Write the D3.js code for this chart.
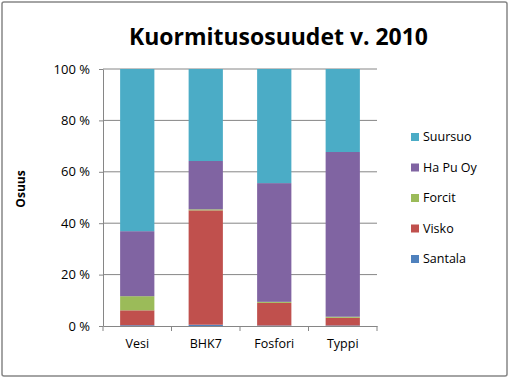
<!DOCTYPE html>
<html><head><meta charset="utf-8">
<script src="https://cdn.jsdelivr.net/npm/d3@7"></script>
<style>body{margin:0;background:#fff}svg{display:block}</style>
</head><body>
<script>
const categories = ["Vesi", "BHK7", "Fosfori", "Typpi"];
const seriesNames = ["Santala", "Visko", "Forcit", "Ha Pu Oy", "Suursuo"];
const santala = [0.3, 0.5, 0.2, 0.2];
const visko = [5.8, 44.5, 8.8, 3.0];
const forcit = [5.5, 0.4, 0.4, 0.4];
const hapuoy = [25.3, 18.8, 46.2, 64.1];
const suursuo = [63.1, 35.8, 44.4, 32.3];
const colors = ["#4F81BD", "#C0504D", "#9BBB59", "#8064A2", "#4BACC6"];
const yTicks = [0, 20, 40, 60, 80, 100];

(function () {
const W = 509, H = 378;
const svg = d3.select("body").append("svg").attr("width", W).attr("height", H);
const font = "'Open Sans', 'Liberation Sans', sans-serif";

svg.append("rect").attr("x", 2).attr("y", 2).attr("width", W - 4).attr("height", H - 4)
  .attr("fill", "#fff").attr("stroke", "#868686").attr("stroke-width", 1.5).attr("rx", 2);

const pL = 103, pR = 377, pT = 69, pB = 326;
const x = d3.scaleBand().domain(categories).range([pL, pR]).paddingInner(0.5).paddingOuter(0.25);
const y = d3.scaleLinear().domain([0, 100]).range([pB, pT]);

svg.append("g").selectAll("line").data(yTicks.filter(d => d > 0)).join("line")
  .attr("x1", pL).attr("x2", pR).attr("y1", d => y(d)).attr("y2", d => y(d))
  .attr("stroke", "#868686").attr("stroke-width", 1);

const all = [santala, visko, forcit, hapuoy, suursuo];
const rows = categories.map((c, i) => {
  const o = { cat: c };
  seriesNames.forEach((s, k) => o[s] = all[k][i]);
  return o;
});
const stack = d3.stack().keys(seriesNames).offset(d3.stackOffsetExpand)(rows);

svg.append("g").selectAll("g").data(stack).join("g")
  .attr("fill", (d, i) => colors[i])
  .selectAll("rect").data(d => d).join("rect")
  .attr("x", d => x(d.data.cat)).attr("width", x.bandwidth())
  .attr("y", d => y(d[1] * 100)).attr("height", d => y(d[0] * 100) - y(d[1] * 100));

const yAxis = d3.axisLeft(y).tickValues(yTicks).tickSize(4).tickSizeOuter(0).tickFormat(d => d + " %");
const gy = svg.append("g").attr("transform", `translate(${pL},0)`).call(yAxis);
gy.select(".domain").attr("stroke", "#868686");
gy.selectAll(".tick line").attr("stroke", "#868686");
gy.selectAll("text").attr("font-family", font).attr("font-size", 13).attr("fill", "#000").attr("x", -13);

const xAxis = d3.axisBottom(x).tickSize(0).tickSizeOuter(0);
const gx = svg.append("g").attr("transform", `translate(0,${pB})`).call(xAxis);
gx.select(".domain").attr("stroke", "#868686");
gx.selectAll("text").attr("font-family", font).attr("font-size", 12.5).attr("fill", "#000").attr("dy", "1.5em");
const step = x.step();
const bounds = categories.map((c, i) => pL + i * step).concat([pR]);
gx.append("g").selectAll("line").data(bounds).join("line")
  .attr("x1", d => d).attr("x2", d => d).attr("y1", 0).attr("y2", 5).attr("stroke", "#868686");

svg.append("text").attr("x", 129).attr("y", 45).text("Kuormitusosuudet v. 2010")
  .attr("font-family", font).attr("font-weight", "bold").attr("font-size", 24)
  .attr("textLength", 299).attr("lengthAdjust", "spacingAndGlyphs");

svg.append("text").attr("transform", "translate(25,189) rotate(-90)").attr("text-anchor", "middle")
  .text("Osuus").attr("font-family", font).attr("font-weight", "bold").attr("font-size", 12);

const legendOrder = seriesNames.slice().reverse();
const lg = svg.append("g").selectAll("g").data(legendOrder).join("g")
  .attr("transform", (d, i) => `translate(411,${137 + i * 30.5})`);
lg.append("rect").attr("x", 0).attr("y", -4).attr("width", 8).attr("height", 8)
  .attr("fill", d => colors[seriesNames.indexOf(d)]);
lg.append("text").attr("x", 12).attr("y", 0).attr("dy", "0.35em").text(d => d)
  .attr("font-family", font).attr("font-size", 12.5);
})();
</script>
</body></html>
